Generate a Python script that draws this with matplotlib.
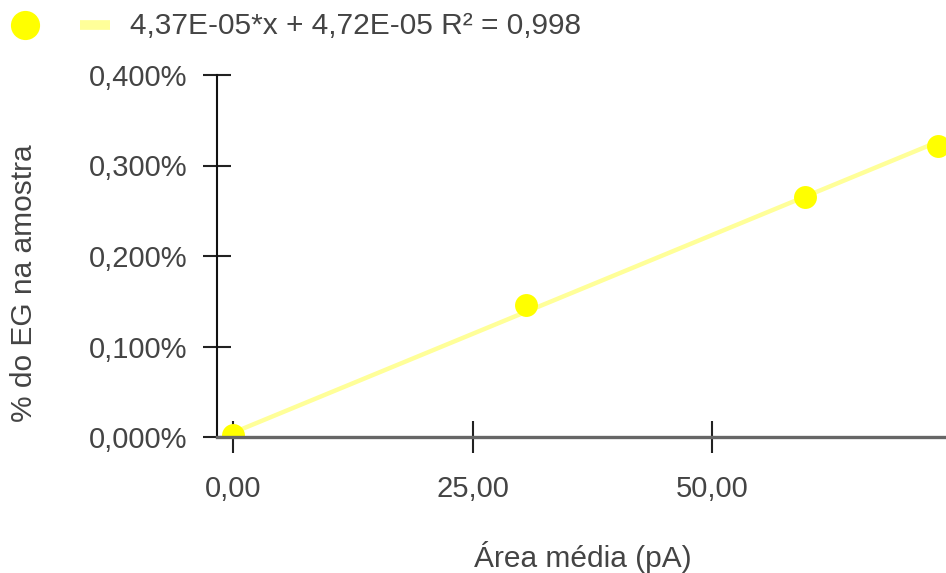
import matplotlib.pyplot as plt
from matplotlib.lines import Line2D
from matplotlib.ticker import FuncFormatter, FixedLocator
import numpy as np

plt.rcParams['font.family'] = ['Liberation Sans', 'DejaVu Sans']

# calibration points: mean peak area vs EG fraction in sample
area = [0.0, 30.6, 59.7, 73.6]
eg_frac = [0.00002, 0.001459, 0.00265, 0.003215]

# fitted trendline
slope = 4.37e-05
intercept = 4.72e-05
r2 = 0.998

x_ticks = [0, 25, 50]
y_ticks = [0.0, 0.001, 0.002, 0.003, 0.004]

W, H = 946, 573
text_col = '#444444'

fig = plt.figure(figsize=(W / 100, H / 100), dpi=100)
ax = fig.add_axes([217 / W, 1 - 437 / H, 729 / W, 362 / H])

xs = np.linspace(0, 74.4, 50)
ax.plot(xs, slope * xs + intercept, color='#ffff99', lw=3.2, zorder=2,
        solid_capstyle='butt')
ax.plot(area, eg_frac, 'o', color='#ffff00', ms=16.5, mec='none', zorder=3)

ax.set_xlim(-1.67, 74.4)
ax.set_ylim(0, 0.004)
ax.xaxis.set_major_locator(FixedLocator(x_ticks))
ax.yaxis.set_major_locator(FixedLocator(y_ticks))
ax.xaxis.set_major_formatter(FuncFormatter(lambda v, p: f"{v:.2f}".replace('.', ',')))
ax.yaxis.set_major_formatter(FuncFormatter(lambda v, p: f"{v * 100:.3f}%".replace('.', ',')))

for s in ['top', 'right']:
    ax.spines[s].set_visible(False)
ax.spines['left'].set_color('#111111')
ax.spines['left'].set_linewidth(1.5)
ax.spines['bottom'].set_color('#666666')
ax.spines['bottom'].set_linewidth(2.4)
ax.spines['bottom'].set_zorder(4)

ax.tick_params(axis='x', direction='inout', length=23, width=1.5, color='#222222',
               labelsize=21, labelcolor=text_col, pad=16)
ax.tick_params(axis='y', direction='inout', length=20, width=1.5, color='#222222',
               labelsize=21, labelcolor=text_col, pad=11)

fig.text(583 / W, 1 - 557 / H, 'Área média (pA)', ha='center', va='center',
         fontsize=21.5, color=text_col)
fig.text(24 / W, 1 - 283 / H, '% do EG na amostra', ha='center', va='center',
         rotation=90, fontsize=21.5, color=text_col)

# legend row across the top
fig.add_artist(Line2D([25 / W], [1 - 25 / H], marker='o', ms=21, color='#ffff00',
                      mec='none', transform=fig.transFigure))
fig.add_artist(Line2D([80 / W, 110 / W], [1 - 25 / H, 1 - 25 / H], lw=7,
                      color='#ffff99', solid_capstyle='butt', transform=fig.transFigure))
fig.text(130 / W, 1 - 26 / H,
         f"{slope:.2E}*x + {intercept:.2E} R² = {r2:.3f}".replace('.', ','),
         ha='left', va='center', fontsize=21.5, color=text_col)

fig.savefig('out.png', dpi=100)
